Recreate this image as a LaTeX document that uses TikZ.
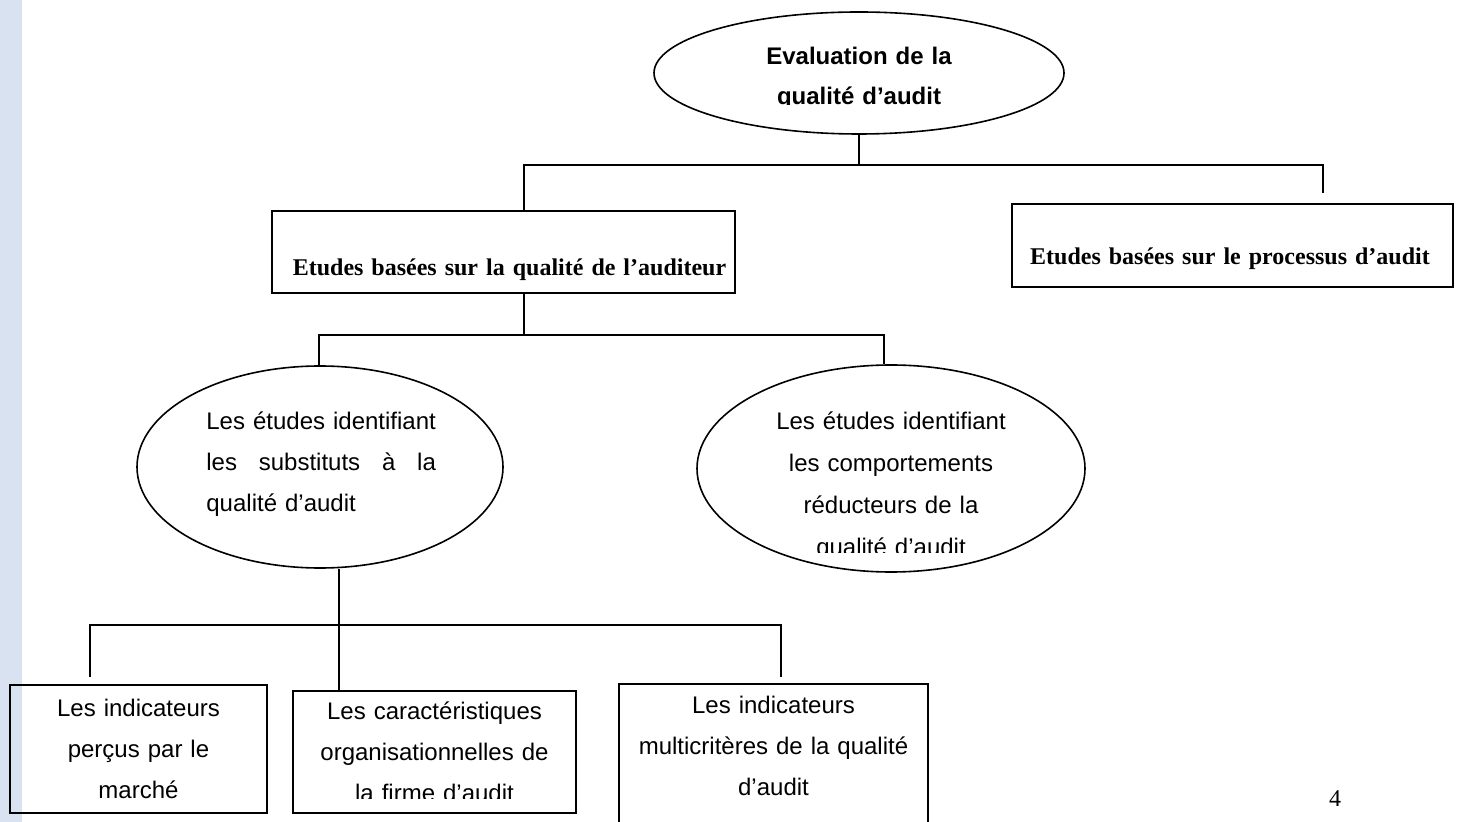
\documentclass[tikz,border=0pt]{standalone}
\usepackage{fontspec}
\usepackage{calc}
\setmainfont{Liberation Serif}
\setsansfont{Liberation Sans}
\usetikzlibrary{shapes.geometric}
\definecolor{bandeau}{RGB}{217,226,241}

\begin{document}
\begin{tikzpicture}[x=0.5pt, y=-0.5pt,
  every node/.style={inner sep=0pt, align=center},
  bulle/.style={ellipse, draw=black, line width=0.8pt},
  cadre/.style={rectangle, draw=black, line width=1.1pt},
  boite/.style={rectangle, draw=black, line width=0.8pt},
  txt/.style={font=\sffamily\fontsize{12}{20.5}\selectfont, anchor=base},
  gras/.style={font=\bfseries\fontsize{12}{20}\selectfont, anchor=base},
  trait/.style={line width=0.9pt}
]
\useasboundingbox (0,0) rectangle (1460,822);
\fill[bandeau] (0,0) rectangle (22,822);

% Niveau 1 : evaluation
\node[bulle, minimum width=205pt, minimum height=61pt] (eval) at (859,73) {};
\begin{scope}
  \clip (640,0) rectangle (1080,105);
  \node[txt, font=\sffamily\bfseries\fontsize{12}{20}\selectfont, text width=200pt] (evaltxt) at (859,65) {Evaluation de la\\qualité d’audit};
\end{scope}

% Niveau 2 : deux familles d'etudes
\node[cadre, minimum width=231.5pt, minimum height=41pt] (qaud) at (503.5,252) {};
\node[gras, text width=225pt] (qaudtxt) at (509.5,276) {Etudes basées sur la qualité de l’auditeur};
\node[cadre, minimum width=220.5pt, minimum height=41.5pt] (proc) at (1232.5,245.5) {};
\node[gras, text width=215pt] (proctxt) at (1230,265) {Etudes basées sur le processus d’audit};

% Niveau 3 : ellipses
\node[bulle, minimum width=183pt, minimum height=101pt] (subst) at (320,467) {};
\node[txt, anchor=base west, text width=125pt, align=left] (substtxt) at (206,430) {Les études identifiant\\\makebox[\widthof{Les études identifiant}]{les\hfill substituts\hfill à\hfill la}\\qualité d’audit};
\node[bulle, minimum width=194pt, minimum height=103.5pt] (compt) at (891,468.5) {};
\begin{scope}
  \clip (690,350) rectangle (1095,553);
  \node[txt, font=\sffamily\fontsize{12}{21}\selectfont, text width=190pt] (compttxt) at (891,430) {Les études identifiant\\les comportements\\réducteurs de la\\qualité d’audit};
\end{scope}

% Niveau 4 : indicateurs
\node[boite, minimum width=128.5pt, minimum height=64pt] (marche) at (138.5,749) {};
\node[txt, text width=125pt] (marchetxt) at (138.5,716) {Les indicateurs\\perçus par le\\marché};
\node[boite, minimum width=141.5pt, minimum height=61pt] (firme) at (434.5,752) {};
\begin{scope}
  \clip (290,690) rectangle (580,798);
  \node[txt, text width=138pt] (firmetxt) at (434.5,719) {Les caractéristiques\\organisationnelles de\\la firme d’audit};
\end{scope}
\node[boite, minimum width=154.5pt, minimum height=73pt] (multi) at (773.5,757) {};
\node[txt, text width=152pt] (multitxt) at (773.5,713) {Les indicateurs\\multicritères de la qualité\\d’audit};

% numero de page
\node[font=\fontsize{12}{14}\selectfont, anchor=base] (page) at (1335,806) {4};

% Liaisons
\coordinate (b1) at (859,165);
\coordinate (b1g) at (524,165);
\coordinate (b1d) at (1323,165);
\coordinate (b1de) at (1323,193);
\draw[trait] (eval.south) -- (b1);
\draw[trait] (b1g |- qaud.north) -- (b1g) -- (b1d) -- (b1de);

\coordinate (b2) at (524,335);
\coordinate (b2g) at (319,335);
\coordinate (b2d) at (884,335);
\draw[trait] (b1g |- qaud.south) -- (b2);
\draw[trait] (b2g |- subst.north) -- (b2g) -- (b2d) -- (b2d |- compt.north);

\coordinate (b3) at (339,625);
\coordinate (b3g) at (90,625);
\coordinate (b3d) at (781,625);
\coordinate (b3ge) at (90,677);
\coordinate (b3de) at (781,677);
\draw[trait] (b3 |- subst.south) -- (b3 |- firme.north);
\draw[trait] (b3ge) -- (b3g) -- (b3d) -- (b3de);
\end{tikzpicture}
\end{document}
